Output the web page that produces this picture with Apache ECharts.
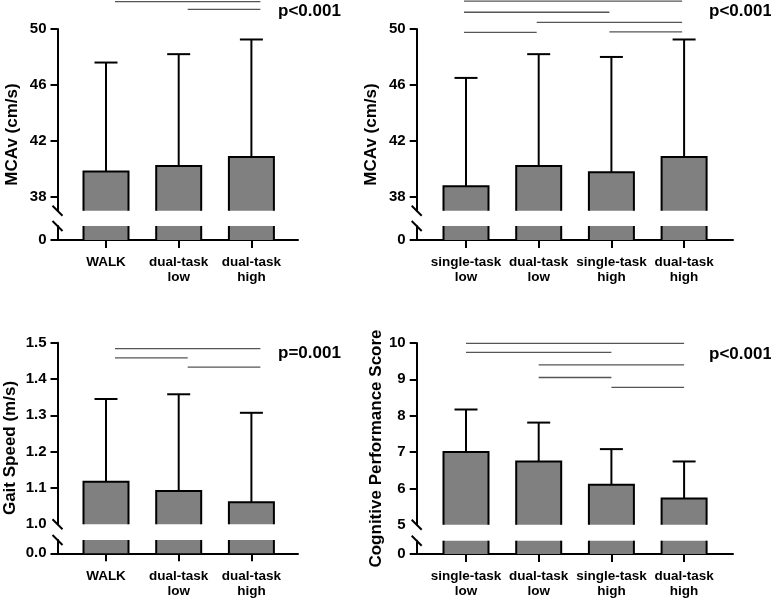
<!DOCTYPE html>
<html>
<head>
<meta charset="utf-8">
<script src="https://cdn.jsdelivr.net/npm/echarts@6/dist/echarts.min.js"></script>
<style>
  html, body { margin: 0; padding: 0; background: #fff; }
  #chart { width: 771px; height: 601px; }
</style>
</head>
<body>
<div id="chart"></div>
<script>
// categories
const catsWalk = ['WALK', 'dual-task\nlow', 'dual-task\nhigh'];
const catsTask = ['single-task\nlow', 'dual-task\nlow', 'single-task\nhigh', 'dual-task\nhigh'];

// means and SD
const mcavWalkMean = [39.8, 40.2, 40.85];
const mcavWalkSd = [7.8, 8.0, 8.4];
const mcavTaskMean = [38.75, 40.2, 39.75, 40.85];
const mcavTaskSd = [7.75, 8.0, 8.25, 8.4];
const gaitMean = [1.117, 1.092, 1.061];
const gaitSd = [0.228, 0.266, 0.246];
const cogMean = [7.0, 6.74, 6.1, 5.72];
const cogSd = [1.17, 1.07, 0.98, 1.02];

// significance brackets: [from, to, level]
const mcavWalkSig = [[0, 2, 51.96], [1, 2, 51.41]];
const mcavTaskSig = [[0, 3, 51.99], [0, 2, 51.2], [1, 3, 50.48], [0, 1, 49.76], [2, 3, 49.8]];
const gaitSig = [[0, 2, 1.4835], [0, 1, 1.458], [1, 2, 1.433]];
const cogSig = [[0, 3, 9.99], [0, 2, 9.74], [1, 3, 9.40], [1, 2, 9.05], [2, 3, 8.78]];

// tick labels
const mcavTicks = [38, 42, 46, 50];
const gaitTicks = [1.0, 1.1, 1.2, 1.3, 1.4, 1.5];
const cogTicks = [5, 6, 7, 8, 9, 10];
const pLabels = ['p<0.001', 'p<0.001', 'p=0.001', 'p<0.001'];
const yTitles = ['MCAv (cm/s)', 'MCAv (cm/s)', 'Gait Speed (m/s)', 'Cognitive Performance Score'];

const FONT = '"Liberation Sans", Arial, Helvetica, sans-serif';
const SPACING = 72.7;
const BAR_W = 45;
const CAP = 23;
const BAR_FILL = '#808080';
const SIG_COLOR = '#555';

const panels = [
  { cats: catsWalk, mean: mcavWalkMean, sd: mcavWalkSd, sig: mcavWalkSig, ticks: mcavTicks,
    yMin: 37, yMax: 50, dec: 0, low: '0',
    left: 57.5, first: 106, right: 298, upTop: 29, upBottom: 210.7, lowTop: 226, lowBottom: 240,
    sigShift: 9, pX: 278, pY: 11, tX: 12 },
  { cats: catsTask, mean: mcavTaskMean, sd: mcavTaskSd, sig: mcavTaskSig, ticks: mcavTicks,
    yMin: 37, yMax: 50, dec: 0, low: '0',
    left: 416.7, first: 466, right: 733, upTop: 29, upBottom: 210.7, lowTop: 226, lowBottom: 240,
    sigShift: -2, pX: 709, pY: 11, tX: 371 },
  { cats: catsWalk, mean: gaitMean, sd: gaitSd, sig: gaitSig, ticks: gaitTicks,
    yMin: 1.0, yMax: 1.5, dec: 1, low: '0.0',
    left: 57.5, first: 106, right: 298, upTop: 342.7, upBottom: 524.3, lowTop: 540, lowBottom: 553.3,
    sigShift: 9, pX: 278, pY: 353, tX: 10 },
  { cats: catsTask, mean: cogMean, sd: cogSd, sig: cogSig, ticks: cogTicks,
    yMin: 5, yMax: 10, dec: 0, low: '0',
    left: 416.7, first: 466, right: 733, upTop: 343, upBottom: 524.7, lowTop: 540.7, lowBottom: 554,
    sigShift: 0, pX: 709, pY: 354, tX: 376.5 }
];

const black = { color: '#000', width: 2 };

function upperBar(params, api) {
  const cs = params.coordSys;
  const top = api.coord([api.value(0), api.value(1)]);
  const err = api.coord([api.value(0), api.value(2)]);
  const bottom = cs.y + cs.height;
  const x = top[0], h = BAR_W / 2;
  return {
    type: 'group',
    children: [
      { type: 'rect', shape: { x: x - h, y: top[1], width: BAR_W, height: bottom - top[1] },
        style: { fill: BAR_FILL } },
      { type: 'line', shape: { x1: x, y1: top[1], x2: x, y2: err[1] },
        style: { stroke: '#000', lineWidth: 2 } },
      { type: 'line', shape: { x1: x - CAP / 2, y1: err[1], x2: x + CAP / 2, y2: err[1] },
        style: { stroke: '#000', lineWidth: 2 } },
      { type: 'polyline', shape: { points: [[x - h, bottom], [x - h, top[1]], [x + h, top[1]], [x + h, bottom]] },
        style: { stroke: '#000', lineWidth: 2, fill: null } }
    ]
  };
}

function lowerBar(params, api) {
  const cs = params.coordSys;
  const base = api.coord([api.value(0), 0]);
  const x = base[0], h = BAR_W / 2;
  return {
    type: 'group',
    children: [
      { type: 'rect', shape: { x: x - h, y: cs.y, width: BAR_W, height: base[1] - cs.y },
        style: { fill: BAR_FILL } },
      { type: 'line', shape: { x1: x - h, y1: cs.y, x2: x - h, y2: base[1] },
        style: { stroke: '#000', lineWidth: 2 } },
      { type: 'line', shape: { x1: x + h, y1: cs.y, x2: x + h, y2: base[1] },
        style: { stroke: '#000', lineWidth: 2 } }
    ]
  };
}

function sigRenderer(shift) {
  return function (params, api) {
    const a = api.coord([api.value(0), api.value(2)]);
    const b = api.coord([api.value(1), api.value(2)]);
    return {
      type: 'line',
      shape: { x1: a[0] + shift, y1: a[1], x2: b[0] + shift, y2: b[1] },
      style: { stroke: SIG_COLOR, lineWidth: 1.3 }
    };
  };
}

const grids = [], xAxes = [], yAxes = [], series = [], graphics = [];

panels.forEach((p, k) => {
  const idx = p.cats.map((c, i) => i);
  const xMin = -(p.first - p.left) / SPACING;
  const xMax = xMin + (p.right - p.left) / SPACING;
  const g = grids.length;
  const w = p.right - p.left;

  grids.push({ left: p.left, top: p.upTop, width: w, height: p.upBottom - p.upTop, outerBoundsMode: 'none' });
  grids.push({ left: p.left, top: p.lowTop, width: w, height: p.lowBottom - p.lowTop, outerBoundsMode: 'none' });

  xAxes.push({ gridIndex: g, type: 'value', min: xMin, max: xMax, show: false });
  xAxes.push({
    gridIndex: g + 1, type: 'value', min: xMin, max: xMax,
    axisLine: { show: true, onZero: false, lineStyle: black },
    axisTick: { show: true, length: 8, customValues: idx, lineStyle: black },
    axisLabel: {
      customValues: idx, margin: 15,
      formatter: v => p.cats[Math.round(v)],
      color: '#000', fontFamily: FONT, fontWeight: 'bold', fontSize: 13.5, lineHeight: 15
    },
    splitLine: { show: false }
  });

  const labelStyle = { color: '#000', fontFamily: FONT, fontWeight: 'bold', fontSize: 15, margin: 11 };
  yAxes.push({
    gridIndex: g, type: 'value', min: p.yMin, max: p.yMax,
    axisLine: { show: true, onZero: false, lineStyle: black },
    axisTick: { show: true, length: 7, customValues: p.ticks.filter(t => t > p.yMin), lineStyle: black },
    axisLabel: Object.assign({ customValues: p.ticks, formatter: v => Number(v).toFixed(p.dec) }, labelStyle),
    splitLine: { show: false }
  });
  yAxes.push({
    gridIndex: g + 1, type: 'value', min: 0, max: 1,
    axisLine: { show: true, onZero: false, lineStyle: black },
    axisTick: { show: true, length: 7, customValues: [0], lineStyle: black },
    axisLabel: Object.assign({ customValues: [0], formatter: () => p.low }, labelStyle),
    splitLine: { show: false }
  });

  series.push({
    type: 'custom', xAxisIndex: g, yAxisIndex: g, silent: true,
    encode: { x: 0, y: [1, 2] },
    data: p.mean.map((m, i) => [i, m, m + p.sd[i]]),
    renderItem: upperBar
  });
  series.push({
    type: 'custom', xAxisIndex: g + 1, yAxisIndex: g + 1, silent: true,
    encode: { x: 0, y: 1 },
    data: p.mean.map((m, i) => [i, 0]),
    renderItem: lowerBar
  });
  series.push({
    type: 'custom', xAxisIndex: g, yAxisIndex: g, silent: true, clip: false,
    encode: { x: [0, 1], y: 2 },
    data: p.sig,
    renderItem: sigRenderer(p.sigShift)
  });

  // axis break marks
  [p.upBottom, p.lowTop].forEach(y => {
    graphics.push({
      type: 'line', silent: true, z: 100,
      shape: { x1: p.left - 5, y1: y - 5, x2: p.left + 5, y2: y + 5 },
      style: { stroke: '#000', lineWidth: 2 }
    });
  });

  graphics.push({
    type: 'text', x: p.pX, y: p.pY, silent: true,
    style: { text: pLabels[k], fill: '#000', fontFamily: FONT, fontWeight: 'bold', fontSize: 17,
             align: 'left', verticalAlign: 'middle', textAlign: 'left', textVerticalAlign: 'middle' }
  });
  graphics.push({
    type: 'text', x: p.tX, y: (p.upTop + p.lowBottom) / 2, rotation: Math.PI / 2, silent: true,
    style: { text: yTitles[k], fill: '#000', fontFamily: FONT, fontWeight: 'bold', fontSize: 17,
             align: 'center', verticalAlign: 'middle', textAlign: 'center', textVerticalAlign: 'middle' }
  });
});

const chart = echarts.init(document.getElementById('chart'), null, { renderer: 'canvas' });
chart.setOption({
  backgroundColor: '#fff',
  animation: false,
  grid: grids,
  xAxis: xAxes,
  yAxis: yAxes,
  series: series,
  graphic: { elements: graphics }
});
</script>
</body>
</html>
